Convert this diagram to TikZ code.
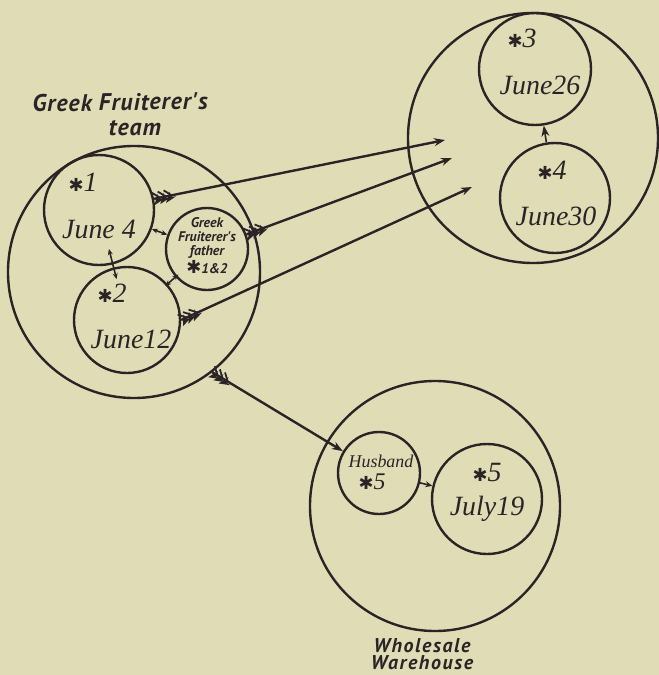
\documentclass[tikz,border=0pt]{standalone}
\usepackage{fontspec}
\setmainfont{Liberation Serif}
\newfontfamily\lblfont{PT Sans}
\newfontfamily\starfont{DejaVu Sans}
\usetikzlibrary{arrows.meta,decorations.markings}
\definecolor{paper}{RGB}{224,220,182}
\definecolor{ink}{RGB}{42,36,38}
\newcommand{\st}{{\starfont\small\char"2731}}
\begin{document}
\begin{tikzpicture}[x=0.5bp,y=-0.5bp,ink,line width=1.2bp,
  every node/.style={font=\itshape,text=ink,inner sep=0pt},
  ring/.style={draw,circle,minimum size=#1bp},
  big/.style={font=\itshape\fontsize{14}{16}\selectfont},
  lbl/.style={font=\lblfont\bfseries\itshape\fontsize{12}{12}\selectfont\addfontfeature{LetterSpace=4}},
  tip/.style={-{Stealth[length=5.5bp,width=4bp]}},
  both/.style={{Stealth[length=3bp,width=2.5bp]}-{Stealth[length=3bp,width=2.5bp]},line width=0.8bp},
  fletched/.style={postaction={decorate},decoration={markings,
    mark=between positions 3bp and 10bp step 3bp with {\draw[line width=0.9bp] (-3.5bp,3.2bp)--(0,0)--(-3.5bp,-3.2bp);}}}]
\fill[paper] (0,0) rectangle (659,675);
\useasboundingbox (0,0) rectangle (659,675);
\node[ring=126] (team) at (134,272) {};
\node[ring=55] (c1) at (99,210) {};
\node[ring=53] (c2) at (127,320) {};
\node[ring=41] (father) at (207,249) {};
\node[ring=125] (firm) at (533,138) {};
\node[ring=56] (c3) at (535,69) {};
\node[ring=55] (c4) at (555,198) {};
\node[ring=125] (store) at (435,506) {};
\node[ring=41] (husband) at (379,473) {};
\node[ring=55] (c5) at (487,499) {};
% texts
\node[lbl,rotate=1] (teamlbl) at (120,102) {Greek Fruiterer's};
\node[lbl] (teamlbl2) at (135,128) {team};
\node[big] (n1) at (83,182) {\st1};
\node[big] (d1) at (99,229) {June 4};
\node[big] (n2) at (112,293) {\st2};
\node[big] (d2) at (131,339) {June12};
\node[align=center,font=\lblfont\bfseries\itshape\fontsize{7}{7}\selectfont] (flbl) at (207,246) {Greek\\Fruiterer's\\father\\\st1\&2};
\node[big] (n3) at (522,38) {\st3};
\node[big] (d3) at (540,85) {June26};
\node[big] (n4) at (552,170) {\st4};
\node[big] (d4) at (556,216) {June30};
\node[font=\itshape\fontsize{9}{10}\selectfont] (hlbl) at (381,461) {Husband};
\node[font=\itshape\fontsize{12}{12}\selectfont] (n5a) at (372,482) {\st5};
\node[big] (n5) at (487,472) {\st5};
\node[big] (d5) at (487,509) {July19};
\node[align=center,font=\lblfont\bfseries\itshape\fontsize{10}{8.5}\selectfont\addfontfeature{LetterSpace=8}] (storelbl) at (422,654) {Wholesale\\Warehouse};
% connectors
\coordinate (ta) at (445,140);
\coordinate (tb) at (452,158);
\coordinate (tc) at (472,187);
\draw[tip,fletched] (c1) -- (ta);
\draw[tip,fletched] (father) -- (tb);
\draw[tip,fletched] (c2.east) -- (tc);
\draw[tip,fletched] (team.-52) -- (husband);
\draw[tip,line width=0.8bp] (c4) -- (c3);
\draw[both] (c1) -- (father);
\draw[both,shorten <=-8bp,shorten >=-6bp] (c1) -- (c2);
\draw[both,shorten <=-2bp,shorten >=-1.5bp] (father) -- (c2);
\draw[-{Stealth[length=3.5bp,width=3bp]},line width=0.8bp] (husband) -- (c5);
\end{tikzpicture}
\end{document}
